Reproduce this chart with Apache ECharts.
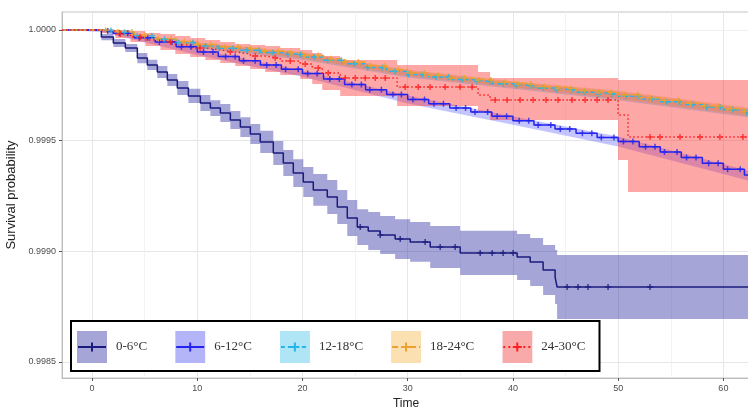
<!DOCTYPE html>
<html><head><meta charset="utf-8">
<script src="https://cdn.jsdelivr.net/npm/echarts@6/dist/echarts.min.js"></script>
<style>html,body{margin:0;padding:0;background:#fff}#c{width:748px;height:407px}</style>
</head><body><div id="c"></div>
<script>
// ---------- data ----------
const groups = ['0-6°C', '6-12°C', '12-18°C', '18-24°C', '24-30°C'];
const xTicks = [0, 10, 20, 30, 40, 50, 60];
const yTicks = [0.9985, 0.999, 0.9995, 1.0];
const xMinor = [5, 15, 25, 35, 45, 55];
const yMinor = [0.99875, 0.99925, 0.99975];

// 0-6°C
const navyT = [-2.85, 0.89, 2.03, 3.17, 4.31, 5.26, 6.21, 7.16, 8.11, 9.16, 10.30, 11.25, 12.20, 13.15, 14.10, 15.05, 15.99, 17.23, 18.18, 19.13, 20.08, 21.03, 22.36, 23.31, 24.26, 25.21, 26.25, 27.39, 28.81, 30.24, 32.14, 34.99, 40.40, 41.64, 42.87, 44.01, 44.20, 62.53];
const navyS = [1.000000, 0.999968, 0.999941, 0.999919, 0.999873, 0.999842, 0.999810, 0.999774, 0.999738, 0.999702, 0.999670, 0.999647, 0.999625, 0.999593, 0.999561, 0.999530, 0.999494, 0.999444, 0.999399, 0.999353, 0.999313, 0.999277, 0.999245, 0.999200, 0.999150, 0.999109, 0.999091, 0.999073, 0.999055, 0.999042, 0.999019, 0.998992, 0.998974, 0.998951, 0.998915, 0.998883, 0.998838, 0.998838];
const navyLo = [1, 0.999954, 0.999923, 0.999901, 0.999850, 0.999819, 0.999783, 0.999747, 0.999706, 0.999670, 0.999634, 0.999611, 0.999584, 0.999552, 0.999516, 0.999485, 0.999444, 0.999390, 0.999340, 0.999290, 0.999245, 0.999205, 0.999168, 0.999123, 0.999069, 0.999028, 0.999005, 0.998987, 0.998965, 0.998952, 0.998924, 0.998893, 0.998870, 0.998843, 0.998802, 0.998761, 0.998693, 0.998693];
const navyHi = [1, 0.999982, 0.999959, 0.999937, 0.999896, 0.999865, 0.999837, 0.999801, 0.999770, 0.999734, 0.999706, 0.999683, 0.999666, 0.999634, 0.999606, 0.999575, 0.999544, 0.999498, 0.999458, 0.999416, 0.999381, 0.999349, 0.999322, 0.999277, 0.999231, 0.999190, 0.999177, 0.999159, 0.999145, 0.999132, 0.999114, 0.999092, 0.999078, 0.999060, 0.999028, 0.999005, 0.998983, 0.998983];
const navyCensor = [25.49, 27.39, 29.29, 31.66, 33.09, 34.51, 36.89, 38.03, 39.07, 40.02, 45.15, 46.19, 47.14, 49.04, 53.03];

// shared step times for 6-12, 12-18, 18-24
const evT = [-2.85, 0.9, 2, 4, 6, 8, 10, 12, 14, 16, 18, 20, 22, 24, 26, 28, 30, 32, 34, 36, 38, 40, 42, 44, 46, 48, 50, 52, 54, 56, 58, 60, 62, 62.53];
const blueS = [1, 0.999995, 0.999985, 0.999965, 0.999946, 0.999924, 0.999901, 0.999880, 0.999861, 0.999842, 0.999823, 0.999803, 0.999778, 0.999754, 0.999730, 0.999708, 0.999686, 0.999667, 0.999647, 0.999629, 0.999610, 0.999590, 0.999571, 0.999552, 0.999533, 0.999514, 0.999496, 0.999472, 0.999448, 0.999424, 0.999398, 0.999371, 0.999344, 0.999344];
const cyanS = [1, 0.999998, 0.999990, 0.999974, 0.999958, 0.999944, 0.999928, 0.999918, 0.999908, 0.999898, 0.999889, 0.999878, 0.999863, 0.999848, 0.999831, 0.999814, 0.999799, 0.999788, 0.999776, 0.999767, 0.999757, 0.999748, 0.999738, 0.999729, 0.999719, 0.999710, 0.999700, 0.999688, 0.999676, 0.999663, 0.999651, 0.999639, 0.999627, 0.999627];
const orangeS = [1, 0.999999, 0.999991, 0.999976, 0.999961, 0.999948, 0.999934, 0.999924, 0.999915, 0.999905, 0.999896, 0.999885, 0.999870, 0.999855, 0.999838, 0.999821, 0.999806, 0.999795, 0.999783, 0.999774, 0.999764, 0.999755, 0.999745, 0.999736, 0.999726, 0.999717, 0.999707, 0.999694, 0.999682, 0.999669, 0.999657, 0.999644, 0.999632, 0.999632];

const bandT = [-2.85, 0.9, 10, 20, 30, 40, 50, 62.53];
const blueLo = [1, 0.999991, 0.999887, 0.999789, 0.999668, 0.999572, 0.999473, 0.999317];
const blueHi = [1, 1, 0.999915, 0.999816, 0.999704, 0.999609, 0.999518, 0.999363];
const cyanLo = [1, 0.999994, 0.999918, 0.999866, 0.999785, 0.999734, 0.999682, 0.999604];
const cyanHi = [1, 1, 0.999937, 0.999892, 0.999813, 0.999761, 0.999718, 0.999640];
const orangeLo = [1, 0.999995, 0.999925, 0.999872, 0.999792, 0.999741, 0.999689, 0.999611];
const orangeHi = [1, 1, 0.999943, 0.999899, 0.999820, 0.999768, 0.999725, 0.999647];

const blueCensor = [1.5, 2.6, 3.4, 4.5, 5.3, 6.4, 7.6, 8.5, 9.4, 10.6, 11.5, 12.7, 13.6, 14.4, 15.5, 16.6, 17.5, 18.4, 19.6, 20.5, 21.4, 22.6, 23.5, 24.7, 25.6, 26.4, 27.5, 28.6, 29.4, 30.5, 31.6, 32.5, 33.4, 34.6, 35.5, 36.4, 37.6, 38.5, 39.4, 40.6, 41.5, 42.4, 43.6, 44.5, 45.4, 46.6, 47.5, 48.4, 49.6, 50.5, 51.4, 52.6, 53.5, 54.4, 55.6, 56.5, 57.4, 58.6, 59.5, 60.4, 61.6];
const cyanCensor = [1.8, 3.1, 4.3, 5.7, 6.9, 8.2, 9.6, 10.8, 12.1, 13.4, 14.7, 15.9, 17.2, 18.6, 19.8, 21.1, 22.4, 23.7, 24.9, 26.2, 27.6, 28.8, 30.1, 31.4, 32.7, 33.9, 35.2, 36.6, 37.8, 39.1, 40.4, 41.7, 42.9, 44.2, 45.6, 46.8, 48.1, 49.4, 50.7, 51.9, 53.2, 54.6, 55.8, 57.1, 58.4, 59.7, 60.9, 62.2];
const orangeCensor = [1.3, 2.5, 3.8, 5.0, 6.3, 7.5, 8.8, 10.1, 11.3, 12.6, 13.9, 15.1, 16.4, 17.7, 18.9, 20.2, 21.5, 22.7, 24.0, 25.3, 26.5, 27.8, 29.1, 30.3, 31.6, 32.9, 34.1, 35.4, 36.7, 37.9, 39.2, 40.5, 41.7, 43.0, 44.3, 45.5, 46.8, 48.1, 49.3, 50.6, 51.9, 53.1, 54.4, 55.7, 56.9, 58.2, 59.5, 60.7, 62.0];

// 24-30°C
const redT = [-2.85, 0.89, 2.22, 3.65, 5.07, 6.50, 7.92, 9.34, 10.77, 12.19, 13.61, 15.04, 16.46, 17.89, 19.79, 20.93, 21.88, 23.59, 29.00, 36.69, 37.83, 49.99, 50.94, 62.53];
const redS = [1, 0.999995, 0.999982, 0.999968, 0.999955, 0.999946, 0.999932, 0.999919, 0.999910, 0.999901, 0.999892, 0.999882, 0.999873, 0.999860, 0.999846, 0.999828, 0.999806, 0.999783, 0.999742, 0.999706, 0.999684, 0.999616, 0.999516, 0.999516];
const redLo = [1, 0.999986, 0.999964, 0.999946, 0.999928, 0.999910, 0.999892, 0.999878, 0.999864, 0.999851, 0.999837, 0.999824, 0.999810, 0.999797, 0.999778, 0.999756, 0.999729, 0.999702, 0.999656, 0.999629, 0.999593, 0.999412, 0.999268, 0.999268];
const redHi = [1, 1, 1, 0.999995, 0.999986, 0.999982, 0.999973, 0.999964, 0.999955, 0.999946, 0.999937, 0.999932, 0.999928, 0.999919, 0.999910, 0.999896, 0.999882, 0.999864, 0.999842, 0.999810, 0.999783, 0.999774, 0.999774, 0.999774];
const redCensor = [2.70, 4.60, 7.45, 10.27, 13.14, 15.52, 17.41, 18.84, 20.26, 21.50, 22.45, 24.07, 25.02, 25.97, 26.92, 27.87, 29.76, 31.0, 32.13, 33.56, 34.98, 36.12, 38.31, 39.45, 40.68, 41.92, 43.15, 44.29, 45.62, 46.86, 48.0, 49.04, 53.03, 53.98, 55.88, 57.78, 59.67, 61.86];

// ---------- style ----------
const STY = [
  {line: '#1b1b7d', band: 'rgba(40,40,160,0.42)', key: '#a5a5d7', dash: null, lt: 'solid'},
  {line: '#2424ee', band: 'rgba(60,60,255,0.30)', key: '#b4b4f8', dash: null, lt: 'solid'},
  {line: '#25b5e6', band: 'rgba(30,180,235,0.35)', key: '#b0e5f6', dash: '4,3', lt: [4, 3]},
  {line: '#eda030', band: 'rgba(240,165,40,0.35)', key: '#fbe0b2', dash: '6,3', lt: [6, 3]},
  {line: '#ff1f1f', band: 'rgba(250,60,60,0.45)', key: '#f8a9a9', dash: '2,3', lt: [1.5, 2.5]}
];
const PLUS = 'path://M3,0H5V3H8V5H5V8H3V5H0V3H3Z';

function pairs(t, v) { return t.map((x, i) => [x, v[i]]); }
function stepAt(t, v, x) { let r = v[0]; for (let i = 0; i < t.length; i++) { if (t[i] <= x) r = v[i]; else break; } return r; }
function band(t, lo, hi, color, step) {
  return {
    type: 'custom', silent: true, z: 2, clip: true,
    data: t.map((x, i) => [x, lo[i], hi[i]]),
    encode: {x: 0, y: [1, 2]},
    renderItem: function (params, api) {
      if (params.dataIndex !== 0) return null;
      const up = [], dn = [];
      for (let i = 0; i < t.length; i++) {
        if (step && i > 0) {
          up.push(api.coord([t[i], hi[i - 1]]));
          dn.push(api.coord([t[i], lo[i - 1]]));
        }
        up.push(api.coord([t[i], hi[i]]));
        dn.push(api.coord([t[i], lo[i]]));
      }
      return {type: 'polygon', shape: {points: up.concat(dn.reverse())}, style: {fill: color}};
    }
  };
}
function curve(i, t, s) {
  return {type: 'line', name: groups[i], data: pairs(t, s), step: 'end', symbol: 'none', silent: true, z: 3,
    lineStyle: {color: STY[i].line, width: 1.5, type: STY[i].lt}, itemStyle: {color: STY[i].line}};
}
function censor(i, c, t, s) {
  return {type: 'scatter', name: groups[i] + ' +', data: c.map(x => [x, stepAt(t, s, x)]), symbol: PLUS, symbolSize: 6, silent: true, z: 4,
    itemStyle: {color: STY[i].line}};
}
function keyIcon(st) {
  const svg = '<svg xmlns="http://www.w3.org/2000/svg" width="34" height="32">' +
    '<rect x="0" y="0" width="30" height="32" fill="' + st.key + '"/>' +
    '<line x1="1" y1="16" x2="29" y2="16" stroke="' + st.line + '" stroke-width="2"' + (st.dash ? ' stroke-dasharray="' + st.dash + '"' : '') + '/>' +
    '<path d="M15 11.5V20.5M10.5 16H19.5" stroke="' + st.line + '" stroke-width="2" fill="none"/></svg>';
  return 'image://data:image/svg+xml;charset=utf-8,' + encodeURIComponent(svg);
}

const series = [].concat(
  [band(navyT, navyLo, navyHi, STY[0].band, true),
   band(bandT, blueLo, blueHi, STY[1].band, false),
   band(bandT, cyanLo, cyanHi, STY[2].band, false),
   band(bandT, orangeLo, orangeHi, STY[3].band, false),
   band(redT, redLo, redHi, STY[4].band, true)],
  [curve(0, navyT, navyS), curve(1, evT, blueS), curve(2, evT, cyanS), curve(3, evT, orangeS), curve(4, redT, redS)],
  [censor(0, navyCensor, navyT, navyS), censor(1, blueCensor, evT, blueS), censor(2, cyanCensor, evT, cyanS),
   censor(3, orangeCensor, evT, orangeS), censor(4, redCensor, redT, redS)]
);
// minor grid lines (drawn just above the major grid, below the bands)
series.push({
  type: 'line', name: 'minor-grid', data: [], silent: true, z: 1,
  markLine: {
    silent: true, symbol: 'none', z: 1, animation: false,
    label: {show: false}, lineStyle: {color: '#f0f0f0', width: 0.8, type: 'solid'},
    data: xMinor.map(v => ({xAxis: v})).concat(yMinor.map(v => ({yAxis: v})))
  }
});

const chart = echarts.init(document.getElementById('c'), null, {renderer: 'canvas'});
chart.setOption({
  animation: false,
  textStyle: {fontFamily: 'Liberation Sans'},
  grid: {left: 62, right: -2, top: 12, bottom: 29, outerBoundsMode: 'none', containLabel: false,
    show: true, borderColor: '#c4c4c4', borderWidth: 1, backgroundColor: 'transparent'},
  xAxis: {
    type: 'value', min: -2.85, max: 62.53,
    name: 'Time', nameLocation: 'middle', nameGap: 17,
    nameTextStyle: {fontSize: 12, color: '#222'},
    axisLine: {show: true, onZero: false, lineStyle: {color: '#bdbdbd'}},
    axisTick: {show: true, length: 3, customValues: xTicks, lineStyle: {color: '#555'}},
    axisLabel: {customValues: xTicks, fontSize: 9, color: '#4d4d4d', margin: 6},
    splitLine: {show: true, lineStyle: {color: '#e6e6e6', width: 1}}
  },
  yAxis: {
    type: 'value', min: 0.9984268, max: 1.0000814, splitNumber: 3,
    name: 'Survival probability', nameLocation: 'middle', nameRotate: 90, nameGap: 37,
    nameTextStyle: {fontSize: 13, color: '#222'},
    axisLine: {show: true, onZero: false, lineStyle: {color: '#bdbdbd'}},
    axisTick: {show: true, length: 3, customValues: yTicks, lineStyle: {color: '#555'}},
    axisLabel: {customValues: yTicks, fontSize: 9, color: '#4d4d4d', margin: 6, formatter: v => Number(v).toFixed(4)},
    splitLine: {show: true, lineStyle: {color: '#e6e6e6', width: 1}}
  },
  legend: {
    left: 71, top: 321, orient: 'horizontal', selectedMode: false,
    itemWidth: 34, itemHeight: 32, itemGap: 28,
    padding: [10, 14, 8, 6], borderColor: '#000', borderWidth: 2, backgroundColor: '#fff',
    textStyle: {fontFamily: 'Liberation Serif', fontSize: 13, color: '#333'},
    data: groups.map((g, i) => ({name: g, icon: keyIcon(STY[i])}))
  },
  series: series
});
</script></body></html>
